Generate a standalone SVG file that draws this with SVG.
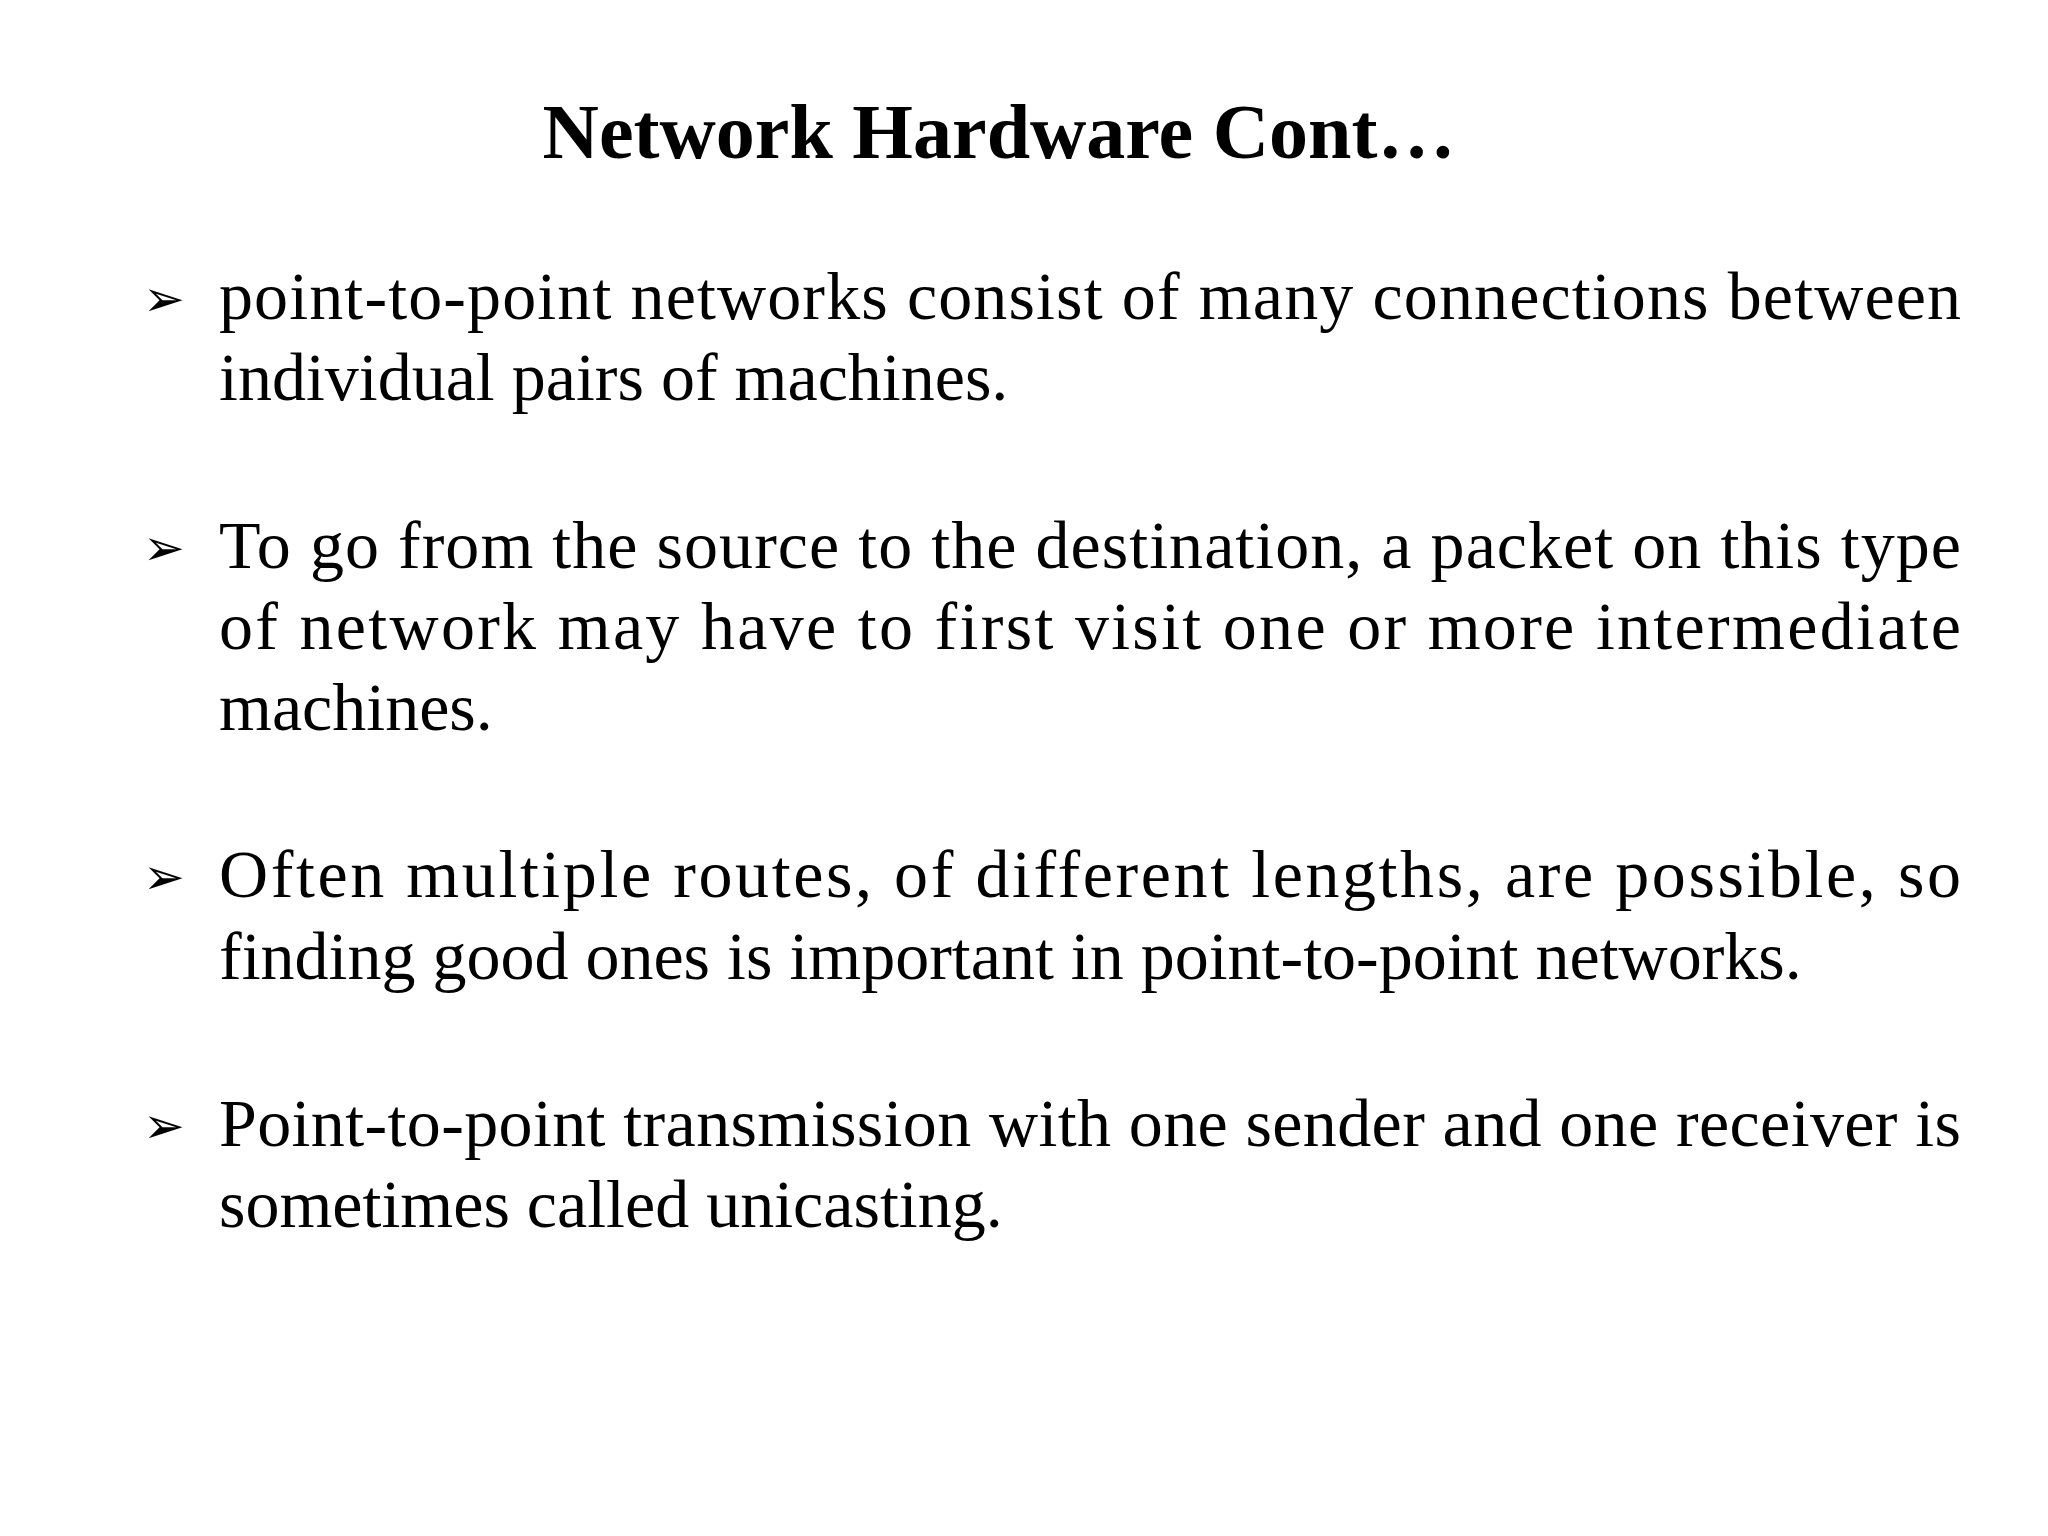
<svg xmlns="http://www.w3.org/2000/svg" width="2048" height="1536" viewBox="0 0 2048 1536">
<style>
.t{font-family:"Liberation Serif","Times New Roman",serif;font-size:68px;fill:#000}
.b{font-family:"DejaVu Sans",sans-serif;font-size:50px;fill:#000}
.h{font-family:"Liberation Serif","Times New Roman",serif;font-size:78px;font-weight:bold;fill:#000}
</style>
<rect width="2048" height="1536" fill="#fff"/>
<g id="title"><text class="h" x="999" y="158" text-anchor="middle">Network Hardware Cont…</text></g>
<g id="b1"><text class="b" x="143" y="316">➢</text>
<text class="t" x="219" y="319" textLength="1742" lengthAdjust="spacing">point-to-point networks consist of many connections between</text>
<text class="t" x="219" y="400">individual pairs of machines.</text></g>
<g id="b2"><text class="b" x="143" y="565">➢</text>
<text class="t" x="219" y="568" textLength="1742" lengthAdjust="spacing">To go from the source to the destination, a packet on this type</text>
<text class="t" x="219" y="649" textLength="1742" lengthAdjust="spacing">of network may have to first visit one or more intermediate</text>
<text class="t" x="219" y="730">machines.</text></g>
<g id="b3"><text class="b" x="143" y="894">➢</text>
<text class="t" x="219" y="897" textLength="1742" lengthAdjust="spacing">Often multiple routes, of different lengths, are possible, so</text>
<text class="t" x="219" y="979">finding good ones is important in point-to-point networks.</text></g>
<g id="b4"><text class="b" x="143" y="1143">➢</text>
<text class="t" x="219" y="1146" textLength="1742" lengthAdjust="spacing">Point-to-point transmission with one sender and one receiver is</text>
<text class="t" x="219" y="1227">sometimes called unicasting.</text></g>
</svg>
